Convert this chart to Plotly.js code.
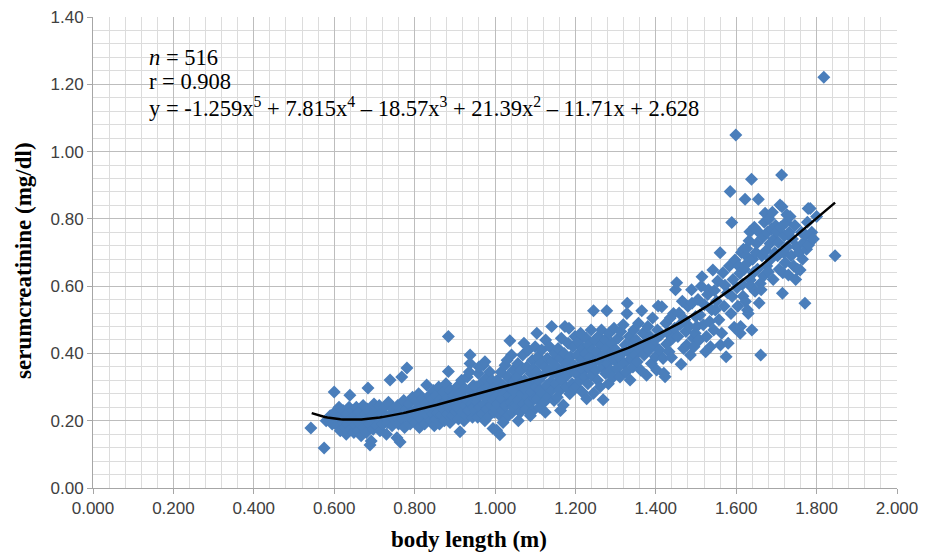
<!DOCTYPE html>
<html>
<head>
<meta charset="utf-8">
<script src="https://cdn.plot.ly/plotly-3.0.1.min.js"></script>
<style>html,body{margin:0;padding:0;background:#fff;}#chart{width:933px;height:552px;}</style>
</head>
<body>
<div id="chart"></div>
<script>
// body length (m) for each child
const bodyLength = [
0.542,0.575,0.580,0.590,0.595,0.600,
0.602,0.605,0.608,0.612,0.615,0.618,0.620,0.622,0.625,0.628,0.630,0.632,0.635,0.637,0.639,0.641,0.643,0.645,0.647,0.649,
0.651,0.653,0.655,0.658,0.660,0.662,0.665,0.667,0.669,0.672,0.674,0.676,0.678,0.680,0.682,0.684,0.686,0.689,0.692,0.695,0.697,0.699,
0.701,0.704,0.706,0.709,0.712,0.714,0.717,0.720,0.722,0.725,0.728,0.730,0.733,0.735,0.739,0.741,0.744,0.747,0.749,
0.752,0.756,0.758,0.760,0.764,0.766,0.768,0.770,0.773,0.775,0.778,0.781,0.783,0.786,0.789,0.792,0.795,0.798,
0.801,0.803,0.805,0.808,0.810,0.812,0.815,0.817,0.820,0.822,0.825,0.827,0.830,0.832,0.835,0.837,0.840,0.842,0.845,0.847,0.849,0.843,
0.851,0.853,0.855,0.857,0.860,0.862,0.863,0.865,0.867,0.870,0.872,0.874,0.876,0.878,0.880,0.882,0.884,0.884,0.886,0.888,0.890,0.893,0.895,0.897,0.899,
0.901,0.903,0.905,0.907,0.909,0.911,0.913,0.915,0.917,0.919,0.921,0.923,0.925,0.927,0.929,0.931,0.933,0.935,0.938,0.938,0.940,0.942,0.944,0.946,0.948,0.950,0.936,
0.951,0.953,0.955,0.957,0.959,0.961,0.963,0.965,0.967,0.969,0.971,0.973,0.975,0.977,0.979,0.981,0.983,0.985,0.987,0.989,0.991,0.993,0.995,0.996,0.998,0.999,0.960,0.975,
1.001,1.003,1.004,1.006,1.008,1.010,1.012,1.013,1.015,1.017,1.019,1.021,1.023,1.025,1.027,1.029,1.031,1.033,1.035,1.037,1.039,1.041,1.043,1.045,1.046,1.048,1.049,1.020,1.030,1.044,
1.051,1.053,1.055,1.057,1.059,1.061,1.063,1.065,1.067,1.069,1.071,1.073,1.075,1.077,1.079,1.081,1.083,1.085,1.087,1.089,1.091,1.093,1.095,1.097,1.099,1.100,1.058,1.072,1.088,1.096,
1.101,1.103,1.105,1.107,1.109,1.111,1.112,1.114,1.116,1.118,1.120,1.122,1.124,1.126,1.128,1.130,1.132,1.134,1.136,1.138,1.140,1.141,1.143,1.145,1.147,1.149,1.125,1.104,
1.151,1.153,1.155,1.157,1.159,1.161,1.163,1.165,1.167,1.169,1.170,1.172,1.174,1.176,1.178,1.180,1.182,1.184,1.186,1.188,1.190,1.192,1.194,1.196,1.198,1.199,1.163,
1.201,1.203,1.205,1.207,1.209,1.211,1.213,1.215,1.217,1.219,1.221,1.223,1.225,1.227,1.229,1.231,1.233,1.235,1.237,1.239,1.241,1.243,1.245,1.245,1.247,1.249,1.228,
1.251,1.253,1.255,1.257,1.259,1.261,1.263,1.265,1.267,1.269,1.271,1.273,1.275,1.277,1.278,1.280,1.282,1.284,1.286,1.288,1.290,1.292,1.294,1.296,1.298,
1.301,1.303,1.306,1.308,1.311,1.313,1.316,1.319,1.321,1.324,1.326,1.328,1.329,1.331,1.334,1.336,1.338,1.341,1.343,1.345,1.347,1.349,
1.351,1.354,1.357,1.360,1.363,1.365,1.368,1.371,1.374,1.377,1.380,1.383,1.386,1.389,1.392,1.395,1.398,1.399,
1.402,1.404,1.406,1.409,1.412,1.415,1.418,1.420,1.423,1.425,1.427,1.430,1.433,1.436,1.439,1.442,1.444,1.447,1.449,
1.452,1.455,1.458,1.460,1.463,1.466,1.469,1.472,1.475,1.477,1.480,1.483,1.486,1.489,1.490,1.493,1.495,1.498,1.499,
1.502,1.505,1.508,1.510,1.513,1.515,1.518,1.521,1.524,1.526,1.529,1.531,1.534,1.536,1.539,1.542,1.544,1.546,1.548,
1.551,1.554,1.557,1.560,1.561,1.564,1.567,1.570,1.572,1.575,1.578,1.580,1.583,1.585,1.587,1.589,1.590,1.592,1.595,1.597,1.599,
1.602,1.604,1.606,1.609,1.610,1.611,1.613,1.615,1.617,1.618,1.620,1.622,1.623,1.625,1.626,1.627,1.628,1.630,1.632,1.634,1.635,1.636,1.638,1.639,1.641,1.643,1.645,1.647,1.649,
1.651,1.653,1.655,1.657,1.659,1.660,1.661,1.662,1.664,1.666,1.668,1.670,1.672,1.674,1.676,1.678,1.680,1.682,1.684,1.686,1.688,1.690,1.692,1.694,1.696,1.698,
1.701,1.703,1.705,1.707,1.709,1.711,1.713,1.714,1.715,1.716,1.718,1.720,1.722,1.724,1.726,1.727,1.730,1.732,1.734,1.737,1.740,1.743,1.746,1.748,1.750,
1.753,1.756,1.759,1.762,1.765,1.768,1.771,1.773,1.775,1.777,1.779,1.780,1.784,1.788,1.792,1.800,1.818,1.846
];
// serum creatinine (mg/dl), same order as bodyLength
const serumCreatinine = [
0.178,0.119,0.200,0.215,0.190,0.285,
0.226,0.205,0.185,0.240,0.170,0.215,0.195,0.230,0.180,0.205,0.160,0.220,0.190,0.240,0.276,0.175,0.210,0.195,0.230,0.165,
0.215,0.185,0.240,0.200,0.170,0.225,0.190,0.155,0.210,0.245,0.180,0.220,0.200,0.165,0.235,0.297,0.190,0.128,0.140,0.215,0.175,0.250,
0.205,0.230,0.185,0.215,0.245,0.170,0.200,0.225,0.190,0.240,0.210,0.160,0.195,0.255,0.321,0.220,0.185,0.235,0.205,
0.215,0.149,0.245,0.190,0.137,0.225,0.330,0.205,0.260,0.180,0.235,0.357,0.210,0.250,0.190,0.225,0.270,0.200,
0.230,0.195,0.260,0.215,0.280,0.180,0.240,0.205,0.265,0.225,0.190,0.250,0.306,0.215,0.235,0.275,0.200,0.245,0.220,0.290,0.185,0.265,
0.240,0.205,0.275,0.225,0.300,0.190,0.262,0.245,0.215,0.285,0.235,0.200,0.255,0.310,0.220,0.270,0.450,0.346,0.240,0.195,0.290,0.255,0.215,0.275,0.235,
0.260,0.225,0.300,0.240,0.205,0.280,0.167,0.250,0.320,0.225,0.270,0.200,0.295,0.245,0.215,0.330,0.260,0.230,0.395,0.370,0.285,0.250,0.210,0.305,0.240,0.275,0.345,
0.230,0.300,0.255,0.210,0.340,0.275,0.240,0.310,0.220,0.290,0.365,0.250,0.200,0.325,0.265,0.235,0.300,0.215,0.345,0.280,0.245,0.320,0.177,0.260,0.225,0.300,0.360,0.375,
0.270,0.235,0.172,0.320,0.250,0.290,0.158,0.215,0.345,0.265,0.230,0.305,0.280,0.365,0.245,0.210,0.330,0.275,0.300,0.438,0.255,0.395,0.225,0.350,0.290,0.265,0.320,0.195,0.380,0.240,
0.285,0.245,0.330,0.370,0.260,0.305,0.225,0.350,0.280,0.395,0.250,0.320,0.295,0.235,0.360,0.270,0.410,0.310,0.255,0.340,0.285,0.380,0.230,0.325,0.265,0.420,0.200,0.430,0.215,0.355,
0.300,0.345,0.265,0.390,0.320,0.240,0.291,0.370,0.410,0.280,0.335,0.255,0.360,0.440,0.305,0.385,0.270,0.350,0.420,0.315,0.290,0.480,0.375,0.340,0.260,0.400,0.225,0.460,
0.310,0.360,0.270,0.415,0.335,0.290,0.385,0.445,0.320,0.355,0.247,0.400,0.480,0.300,0.370,0.335,0.430,0.475,0.280,0.390,0.350,0.310,0.420,0.365,0.295,0.450,0.230,
0.340,0.301,0.395,0.435,0.360,0.320,0.460,0.380,0.285,0.415,0.350,0.330,0.400,0.445,0.370,0.310,0.425,0.355,0.390,0.470,0.335,0.410,0.527,0.282,0.375,0.440,0.265,
0.350,0.405,0.320,0.450,0.380,0.300,0.425,0.470,0.360,0.262,0.395,0.440,0.340,0.415,0.527,0.370,0.310,0.460,0.390,0.350,0.430,0.405,0.330,0.475,0.380,
0.410,0.355,0.445,0.390,0.330,0.465,0.400,0.485,0.370,0.425,0.345,0.519,0.549,0.405,0.450,0.321,0.385,0.430,0.360,0.470,0.410,0.395,
0.440,0.375,0.490,0.415,0.350,0.527,0.460,0.395,0.430,0.335,0.480,0.410,0.450,0.370,0.505,0.425,0.440,0.390,
0.351,0.470,0.541,0.410,0.455,0.539,0.385,0.341,0.331,0.490,0.428,0.460,0.405,0.505,0.388,0.445,0.519,0.475,0.589,
0.610,0.450,0.520,0.485,0.368,0.555,0.415,0.500,0.465,0.425,0.540,0.480,0.395,0.589,0.549,0.445,0.420,0.460,0.510,
0.480,0.560,0.440,0.514,0.600,0.628,0.485,0.545,0.405,0.450,0.575,0.589,0.495,0.420,0.530,0.648,0.470,0.587,0.529,
0.555,0.615,0.500,0.699,0.425,0.460,0.640,0.540,0.603,0.390,0.580,0.430,0.660,0.881,0.519,0.789,0.569,0.620,0.478,0.678,1.049,
0.595,0.540,0.660,0.638,0.460,0.480,0.700,0.605,0.570,0.710,0.650,0.858,0.554,0.690,0.712,0.668,0.529,0.519,0.735,0.762,0.618,0.600,0.918,0.470,0.680,0.640,0.775,0.585,0.700,
0.727,0.650,0.858,0.550,0.757,0.608,0.395,0.589,0.690,0.745,0.630,0.790,0.817,0.705,0.660,0.760,0.643,0.800,0.727,0.680,0.770,0.820,0.620,0.740,0.700,0.780,
0.762,0.690,0.730,0.650,0.841,0.775,0.930,0.836,0.579,0.640,0.700,0.750,0.670,0.790,0.812,0.717,0.633,0.760,0.807,0.690,0.740,0.660,0.780,0.620,0.717,
0.650,0.700,0.648,0.760,0.680,0.730,0.549,0.752,0.710,0.790,0.831,0.722,0.831,0.760,0.740,0.807,1.221,0.690
];
// polynomial trendline printed on the chart: y = c5 x^5 + c4 x^4 + c3 x^3 + c2 x^2 + c1 x + c0
const trendCoefficients = [-1.259, 7.815, -18.57, 21.39, -11.71, 2.628];
const trendRange = [0.544, 1.846];
const xTickLabels = ['0.000','0.200','0.400','0.600','0.800','1.000','1.200','1.400','1.600','1.800','2.000'];
const yTickLabels = ['0.00','0.20','0.40','0.60','0.80','1.00','1.20','1.40'];
const xTitle = 'body length (m)';
const yTitle = 'serumcreatinine (mg/dl)';
const statLines = ['<i>n</i> = 516', 'r = 0.908',
  'y = -1.259x<sup>5</sup> + 7.815x<sup>4</sup> \u2013 18.57x<sup>3</sup> + 21.39x<sup>2</sup> \u2013 11.71x + 2.628'];

if (bodyLength.length !== serumCreatinine.length) {
  throw new Error('length mismatch ' + bodyLength.length + ' vs ' + serumCreatinine.length);
}

const trendX = [], trendY = [];
const nSteps = 200;
for (let i = 0; i <= nSteps; i++) {
  const x = trendRange[0] + (trendRange[1] - trendRange[0]) * i / nSteps;
  let y = 0;
  for (let k = 0; k < trendCoefficients.length; k++) y = y * x + trendCoefficients[k];
  trendX.push(x); trendY.push(y);
}

const traces = [
  {type:'scatter', mode:'markers', x: bodyLength, y: serumCreatinine,
   marker:{symbol:'diamond', size:10, color:'#4a7ebb', line:{width:0}}, hoverinfo:'x+y'},
  {type:'scatter', mode:'lines', x: trendX, y: trendY,
   line:{color:'#000000', width:2.5}, hoverinfo:'skip'}
];

const serif = 'Liberation Serif, Times New Roman, serif';
const tickFont = {family:'Liberation Sans, Arial, sans-serif', size:17, color:'#404040'};
const titleFont = {family:serif, size:23, color:'#000000'};
const xTickVals = xTickLabels.map(Number);
const yTickVals = yTickLabels.map(Number);

const statAnnotations = statLines.map((t, i) => ({
  text:t, xref:'x', yref:'y', x:0.134, y:1.281 - i*0.074,
  xanchor:'left', yanchor:'middle', showarrow:false,
  font:{family:serif, size:22.5, color:'#000000'}
}));

const layout = {
  width:933, height:552,
  margin:{l:93, r:36, t:17, b:64},
  paper_bgcolor:'#ffffff', plot_bgcolor:'#ffffff',
  showlegend:false,
  xaxis:{
    range:[0,2], tickmode:'array', tickvals:xTickVals, ticktext:xTickLabels,
    showgrid:true, gridcolor:'#bdbdbd', gridwidth:1,
    minor:{dtick:0.04, tick0:0, showgrid:true, gridcolor:'#dcdcdc', gridwidth:1},
    showline:true, linecolor:'#a6a6a6', linewidth:1, mirror:false,
    ticks:'outside', ticklen:5, tickcolor:'#a6a6a6',
    zeroline:false, tickfont:tickFont
  },
  yaxis:{
    range:[0,1.4], tickmode:'array', tickvals:yTickVals, ticktext:yTickLabels,
    showgrid:true, gridcolor:'#bdbdbd', gridwidth:1,
    minor:{dtick:0.04, tick0:0, showgrid:true, gridcolor:'#dcdcdc', gridwidth:1},
    showline:true, linecolor:'#a6a6a6', linewidth:1,
    ticks:'outside', ticklen:5, tickcolor:'#a6a6a6',
    zeroline:false, tickfont:tickFont
  },
  annotations: statAnnotations.concat([
    {text:'<b>' + xTitle + '</b>', xref:'paper', yref:'paper', x:0.468, y:-0.110,
     xanchor:'center', yanchor:'middle', showarrow:false, font:titleFont},
    {text:'<b>' + yTitle + '</b>', xref:'paper', yref:'paper', x:-0.0858, y:0.482,
     xanchor:'center', yanchor:'middle', textangle:-90, showarrow:false, font:titleFont}
  ])
};

Plotly.newPlot('chart', traces, layout, {displayModeBar:false, staticPlot:true});
</script>
</body>
</html>
